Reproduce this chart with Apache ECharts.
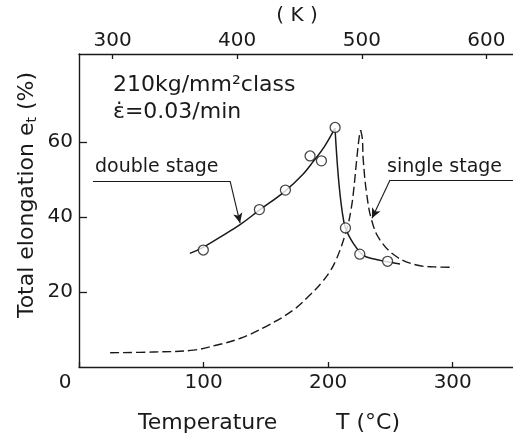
<!DOCTYPE html>
<html><head><meta charset="utf-8">
<script src="https://cdn.jsdelivr.net/npm/echarts@6/dist/echarts.min.js"></script>
<style>html,body{margin:0;padding:0;background:#fff}#c{width:513px;height:436px}</style>
</head><body><div id="c"></div>
<script>
// Tick labels
const xTicksC = [0, 100, 200, 300];
const xTicksK = [300, 400, 500, 600];
const yTicks = [20, 40, 60];

// Measured points (open circles), [T °C, elongation %]
const measured = [[99.8,31.2],[144.8,42.0],[165.7,47.2],[185.5,56.3],[194.6,55.0],[205.6,63.9],[213.9,37.1],[225.4,30.1],[247.7,28.2]];

// Double stage curve (solid), rising and falling branches
const doubleRise = [[89,30.3],[100,32],[115,35],[129,37.9],[145,41.9],[165,46.8],[180,51.5],[188,54.8],[197,58.8],[205.5,63.7]];
const doubleFall = [[205.5,63.7],[208.2,50.7],[211.1,41.9],[214,37],[220.2,33],[228.2,29.8],[237,28.8],[247,28.1],[257.7,27.5]];

// Single stage curve (dashed), rising and falling branches
const singleRise = [[25,3.8],[60,4.0],[92,4.5],[110,5.8],[129,7.6],[150,10.8],[172,15.2],[186,19.4],[195,22.6],[201.5,25.5],[206,28.3],[209.5,31.2],[213,34.6],[216.2,38.3],[218.5,42.2],[220.2,46.3],[222.9,55.2],[224.8,61],[226.1,63.2]];
const singleFall = [[226.1,63.2],[227.4,61],[228.2,55.2],[230.9,46.3],[234.9,39.2],[241.6,33.9],[255,29.4],[271,27.2],[285,26.7],[300.7,26.6]];

// Annotation leader lines in data coordinates
const doubleLeader = [[11.2,49.6],[121.3,49.6]];
const doubleArrow = [[121.3,49.6],[129.3,38.4]];
const singleLeader = [[249.7,49.9],[348.4,49.9]];
const singleArrow = [[249.7,49.9],[235.2,39.7]];

const INK = '#1a1a1a';
const FONT = 'DejaVu Sans';
const chart = echarts.init(document.getElementById('c'), null, {renderer: 'canvas'});

const lineBase = {type: 'line', showSymbol: false, symbol: 'none', smooth: 0.4, silent: true, animation: false};
const arrowItem = (seg) => [
  {coord: seg[0], symbol: 'none'},
  {coord: seg[1], symbol: 'arrow', symbolSize: [7, 10]}
];
const plainItem = (seg) => [
  {coord: seg[0], symbol: 'none'},
  {coord: seg[1], symbol: 'none'}
];

chart.setOption({
  animation: false,
  backgroundColor: '#fff',
  grid: {left: 79, top: 54, width: 436, height: 313, containLabel: false, outerBoundsMode: 'none'},
  xAxis: [{
    type: 'value', position: 'bottom', min: 0, max: 350, interval: 100,
    axisLine: {show: true, lineStyle: {color: INK, width: 1.4}},
    axisTick: {show: true, inside: true, length: 5, customValues: xTicksC, lineStyle: {color: INK, width: 1.3}},
    splitLine: {show: false},
    axisLabel: {
      margin: 6, color: INK, fontFamily: FONT, fontSize: 20, customValues: xTicksC,
      formatter: (v) => v === 0 ? '{z|0}' : String(v),
      rich: {z: {fontFamily: FONT, fontSize: 20, color: INK, padding: [0, 28, 0, 0]}}
    }
  }, {
    type: 'value', position: 'top', min: 273, max: 623,
    name: '( K )', nameLocation: 'middle', nameGap: 22,
    nameTextStyle: {color: INK, fontFamily: FONT, fontSize: 20},
    axisLine: {show: true, lineStyle: {color: INK, width: 1.4}},
    axisTick: {show: true, inside: true, length: 5, customValues: xTicksK, lineStyle: {color: INK, width: 1.3}},
    splitLine: {show: false},
    axisLabel: {margin: 3, color: INK, fontFamily: FONT, fontSize: 20, customValues: xTicksK}
  }],
  yAxis: {
    type: 'value', min: 0, max: 83.5,
    axisLine: {show: true, lineStyle: {color: INK, width: 1.4}},
    axisTick: {show: true, inside: true, length: 8, customValues: yTicks, lineStyle: {color: INK, width: 1.3}},
    splitLine: {show: false},
    axisLabel: {margin: 6, color: INK, fontFamily: FONT, fontSize: 20, customValues: yTicks}
  },
  series: [
    Object.assign({}, lineBase, {name: 'double stage rise', data: doubleRise, lineStyle: {color: INK, width: 1.5}}),
    Object.assign({}, lineBase, {name: 'double stage fall', data: doubleFall, lineStyle: {color: INK, width: 1.5}}),
    Object.assign({}, lineBase, {name: 'single stage rise', data: singleRise, lineStyle: {color: INK, width: 1.4, type: [9, 4]}}),
    Object.assign({}, lineBase, {name: 'single stage fall', data: singleFall, lineStyle: {color: INK, width: 1.4, type: [9, 4]}}),
    {
      type: 'scatter', name: 'measured', data: measured, symbol: 'circle', symbolSize: 10, z: 5,
      itemStyle: {color: '#fff', borderColor: INK, borderWidth: 1.3}, silent: true,
      markLine: {
        silent: true, animation: false, symbol: ['none', 'none'], label: {show: false},
        lineStyle: {color: INK, width: 1.1, type: 'solid'},
        emphasis: {disabled: true},
        data: [plainItem(doubleLeader), arrowItem(doubleArrow), plainItem(singleLeader), arrowItem(singleArrow)]
      }
    }
  ],
  graphic: [
    {type: 'text', x: 113, y: 85, silent: true, style: {text: '210kg/mm²class', fill: INK, font: '22px "DejaVu Sans"', verticalAlign: 'middle'}},
    {type: 'text', x: 113, y: 112, silent: true, style: {text: 'ε̇=0.03/min', fill: INK, font: '22px "DejaVu Sans"', verticalAlign: 'middle'}},
    {type: 'text', x: 95, y: 167, silent: true, style: {text: 'double stage', fill: INK, font: '19px "DejaVu Sans"', verticalAlign: 'middle'}},
    {type: 'text', x: 387, y: 167, silent: true, style: {text: 'single stage', fill: INK, font: '19px "DejaVu Sans"', verticalAlign: 'middle'}},
    {type: 'text', x: 138, y: 423, silent: true, style: {text: 'Temperature', fill: INK, font: '22px "DejaVu Sans"', verticalAlign: 'middle'}},
    {type: 'text', x: 400, y: 423, silent: true, style: {text: 'T (°C)', fill: INK, font: '22px "DejaVu Sans"', align: 'right', verticalAlign: 'middle'}},
    {type: 'text', x: 27, y: 195, rotation: Math.PI / 2, silent: true, style: {
      text: 'Total elongation e{s|t} (%)', fill: INK, font: '22px "DejaVu Sans"', align: 'center', verticalAlign: 'middle',
      rich: {s: {fontSize: 14, fontFamily: FONT, fill: INK, padding: [10, 0, 0, 0]}}
    }}
  ]
});
</script>
</body></html>
